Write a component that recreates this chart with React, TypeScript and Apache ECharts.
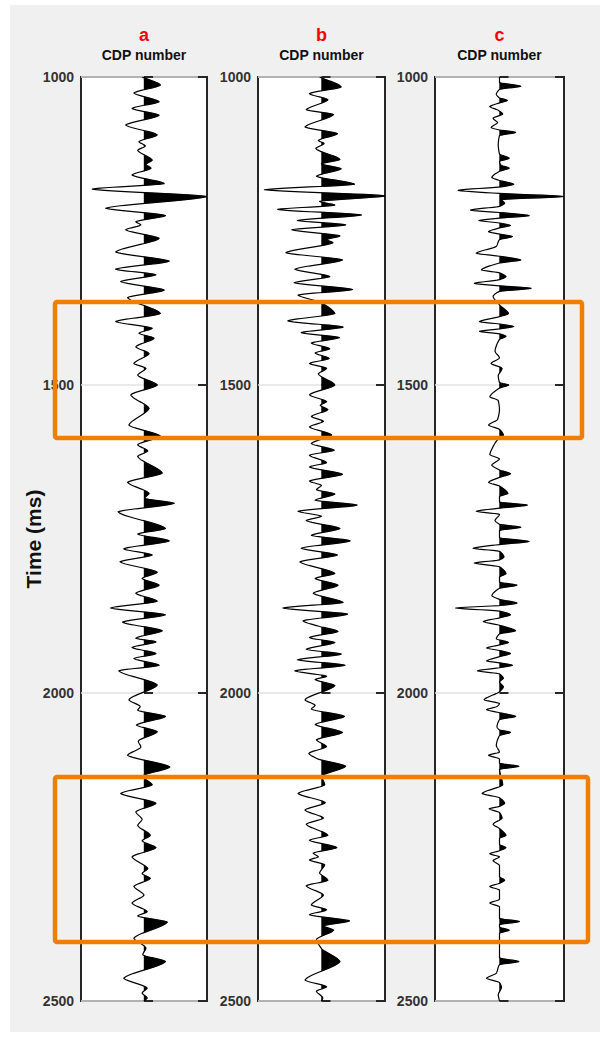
import React, { useEffect, useRef } from 'react';
import * as echarts from 'echarts';

// Time axis ticks (ms) and panel captions
const timeTicks = [1000, 1500, 2000, 2500];
const panelLetters = ['a', 'b', 'c'];
const panelTitle = 'CDP number';
const timeTitle = 'Time (ms)';

// Wiggle traces: [time (ms), normalized amplitude]
const traceA: number[][] = [
  [1000, -0.03], [1013, 0.26], [1026, -0.16], [1040, 0.24], [1051, -0.19], [1062, 0.24],
  [1078, -0.29], [1094, 0.21], [1105, -0.08], [1112, 0.02], [1119, -0.10], [1135, 0.13],
  [1142, 0.03], [1148, 0.11], [1159, -0.19], [1173, 0.32], [1182, -0.82], [1194, 1.0],
  [1213, -0.61], [1225, 0.34], [1235, -0.13], [1240, -0.05], [1248, -0.29], [1262, 0.24],
  [1284, -0.45], [1299, 0.40], [1312, -0.45], [1321, 0.19], [1332, -0.37], [1346, 0.32],
  [1358, -0.26], [1384, 0.26], [1397, -0.45], [1408, 0.13], [1416, -0.08], [1424, 0.16],
  [1438, -0.13], [1449, 0.08], [1465, -0.16], [1473, 0.03], [1484, -0.10], [1500, 0.21],
  [1516, -0.21], [1538, 0.08], [1565, -0.24], [1583, 0.26], [1597, -0.10], [1607, 0.06],
  [1616, -0.10], [1643, 0.29], [1658, -0.26], [1676, 0.08], [1684, 0.01], [1692, 0.48],
  [1706, -0.41], [1733, 0.34], [1742, -0.10], [1753, 0.40], [1766, -0.32], [1776, 0.13],
  [1787, -0.38], [1804, 0.21], [1814, -0.03], [1825, 0.24], [1838, -0.13], [1851, 0.21],
  [1862, -0.53], [1873, 0.34], [1885, -0.34], [1899, 0.29], [1911, -0.13], [1917, 0.19],
  [1926, -0.19], [1936, 0.19], [1944, -0.16], [1955, 0.24], [1964, -0.40], [1987, 0.21],
  [2011, -0.24], [2022, -0.06], [2028, -0.10], [2038, 0.34], [2052, -0.12], [2063, 0.21],
  [2078, -0.09], [2088, -0.05], [2101, -0.26], [2120, 0.41], [2135, -0.03], [2149, 0.13],
  [2163, -0.37], [2179, 0.19], [2193, -0.13], [2205, -0.03], [2215, -0.10], [2231, 0.10],
  [2240, -0.03], [2251, 0.19], [2266, -0.19], [2285, 0.06], [2293, -0.03], [2301, 0.10],
  [2314, -0.16], [2328, 0.0], [2341, -0.19], [2355, 0.05], [2362, -0.10], [2372, 0.37],
  [2398, -0.16], [2414, 0.03], [2425, -0.02], [2436, 0.34], [2463, -0.32], [2479, 0.05],
  [2487, -0.03], [2495, 0.05], [2500, 0.0],
];

const traceB: number[][] = [
  [1000, -0.03], [1016, 0.31], [1027, -0.19], [1037, 0.10], [1053, -0.24], [1061, 0.19],
  [1081, -0.26], [1092, 0.25], [1103, -0.05], [1108, 0.04], [1116, -0.09], [1134, 0.29],
  [1141, 0.0], [1149, 0.31], [1161, -0.08], [1174, 0.52], [1183, -0.90], [1193, 1.0],
  [1202, -0.03], [1208, 0.21], [1215, -0.69], [1224, 0.63], [1233, -0.38], [1240, 0.38],
  [1248, -0.47], [1258, 0.29], [1264, 0.08], [1269, 0.18], [1285, -0.56], [1297, 0.33],
  [1312, -0.42], [1324, 0.13], [1334, -0.43], [1345, 0.49], [1354, -0.37], [1366, -0.01],
  [1384, 0.21], [1396, -0.53], [1406, 0.34], [1415, -0.32], [1423, 0.28], [1432, -0.16],
  [1441, 0.13], [1448, -0.10], [1457, 0.12], [1465, -0.19], [1473, 0.08], [1482, -0.05],
  [1500, 0.21], [1516, -0.19], [1527, 0.08], [1533, -0.02], [1540, 0.10], [1551, -0.16],
  [1559, 0.03], [1568, -0.19], [1581, 0.16], [1595, -0.16], [1606, 0.20], [1614, -0.19],
  [1626, 0.08], [1633, -0.19], [1645, 0.33], [1656, -0.19], [1663, 0.0], [1670, -0.08],
  [1677, 0.21], [1687, -0.10], [1695, 0.56], [1705, -0.37], [1713, 0.0], [1720, -0.24],
  [1733, 0.29], [1744, -0.16], [1753, 0.45], [1765, -0.32], [1776, 0.25], [1787, -0.34],
  [1806, 0.21], [1814, -0.10], [1825, 0.26], [1838, -0.13], [1853, 0.34], [1862, -0.61],
  [1872, 0.41], [1883, -0.29], [1892, -0.03], [1900, 0.26], [1910, -0.19], [1918, 0.21],
  [1929, -0.24], [1937, 0.31], [1946, -0.38], [1955, 0.37], [1964, -0.42], [1973, 0.08],
  [1978, -0.10], [1988, 0.21], [2011, -0.26], [2020, -0.10], [2026, -0.16], [2038, 0.36],
  [2051, -0.10], [2064, 0.33], [2076, -0.08], [2087, 0.08], [2098, -0.20], [2107, -0.06],
  [2119, 0.38], [2135, 0.0], [2149, 0.05], [2163, -0.37], [2178, 0.06], [2190, -0.26],
  [2203, 0.03], [2213, -0.24], [2231, 0.10], [2239, -0.19], [2251, 0.24], [2260, -0.13],
  [2266, -0.05], [2271, -0.19], [2279, 0.05], [2292, -0.03], [2304, 0.10], [2313, -0.24],
  [2328, 0.03], [2344, -0.16], [2352, 0.08], [2360, -0.19], [2370, 0.44], [2378, 0.03],
  [2385, 0.19], [2400, -0.08], [2415, 0.0], [2436, 0.29], [2466, -0.26], [2477, 0.08],
  [2484, -0.08], [2495, 0.02], [2500, 0.0],
];

const traceC: number[][] = [
  [1000, 0.0], [1009, 0.0], [1015, 0.33], [1020, 0.0], [1028, -0.05], [1034, 0.0],
  [1038, 0.12], [1042, 0.0], [1048, -0.15], [1054, -0.02], [1060, 0.05], [1067, -0.10],
  [1074, -0.03], [1082, -0.13], [1086, 0.0], [1090, 0.25], [1095, 0.0], [1110, -0.02],
  [1125, 0.0], [1132, 0.15], [1137, 0.0], [1143, 0.02], [1148, 0.15], [1153, 0.0],
  [1163, -0.12], [1168, 0.0], [1174, 0.22], [1178, 0.05], [1184, -0.64], [1189, 0.0],
  [1194, 1.0], [1199, 0.03], [1205, 0.08], [1210, 0.0], [1216, -0.45], [1220, 0.0],
  [1225, 0.46], [1229, 0.0], [1233, -0.32], [1237, 0.0], [1241, 0.17], [1245, 0.0],
  [1251, -0.17], [1255, 0.0], [1259, 0.20], [1264, 0.0], [1275, -0.05], [1286, -0.36],
  [1291, 0.0], [1297, 0.33], [1302, 0.0], [1313, -0.28], [1318, 0.0], [1324, 0.10],
  [1329, 0.0], [1335, -0.39], [1339, 0.0], [1343, 0.49], [1348, 0.0], [1356, -0.10],
  [1370, 0.0], [1384, 0.14], [1389, 0.0], [1397, -0.31], [1401, 0.0], [1405, 0.22],
  [1409, 0.0], [1413, -0.31], [1417, 0.0], [1421, 0.10], [1426, 0.0], [1445, -0.07],
  [1456, 0.0], [1465, -0.13], [1473, 0.04], [1485, -0.02], [1496, 0.0], [1500, 0.14],
  [1505, 0.0], [1519, -0.15], [1525, -0.02], [1540, 0.0], [1556, -0.03], [1565, -0.17],
  [1572, 0.0], [1581, 0.06], [1590, -0.04], [1600, -0.10], [1613, -0.15], [1620, 0.0],
  [1630, -0.12], [1638, 0.0], [1644, 0.17], [1650, 0.0], [1658, -0.17], [1664, 0.0],
  [1676, 0.13], [1681, 0.0], [1690, 0.0], [1695, 0.43], [1700, 0.0], [1705, -0.36],
  [1710, 0.0], [1720, -0.07], [1726, 0.0], [1731, 0.33], [1736, 0.0], [1748, 0.0],
  [1754, 0.46], [1759, 0.0], [1765, -0.41], [1770, 0.0], [1779, 0.07], [1784, 0.0],
  [1789, -0.39], [1795, 0.0], [1806, 0.10], [1812, 0.0], [1820, 0.0], [1825, 0.27],
  [1830, 0.0], [1842, -0.12], [1848, 0.0], [1854, 0.27], [1858, 0.0], [1862, -0.68],
  [1867, 0.0], [1873, 0.17], [1878, 0.0], [1884, -0.25], [1890, 0.0], [1899, 0.25],
  [1904, 0.0], [1912, -0.05], [1918, 0.14], [1922, 0.0], [1927, -0.20], [1931, 0.0],
  [1936, 0.17], [1941, 0.0], [1948, -0.20], [1951, 0.0], [1955, 0.20], [1959, 0.0],
  [1964, -0.34], [1969, 0.0], [1976, 0.06], [1982, 0.0], [1990, 0.06], [1998, 0.0],
  [2011, -0.24], [2017, 0.0], [2022, -0.04], [2027, -0.20], [2032, 0.0], [2038, 0.25],
  [2043, 0.0], [2055, -0.04], [2060, 0.0], [2064, 0.17], [2069, 0.0], [2085, -0.05],
  [2096, 0.0], [2101, -0.17], [2107, 0.0], [2114, 0.0], [2119, 0.30], [2124, 0.0],
  [2149, 0.05], [2163, -0.27], [2170, 0.0], [2179, 0.08], [2184, 0.0], [2188, -0.16],
  [2194, 0.0], [2203, 0.04], [2213, -0.10], [2220, 0.0], [2231, 0.10], [2236, 0.0],
  [2246, 0.0], [2251, 0.10], [2256, 0.0], [2261, -0.15], [2266, 0.0], [2272, -0.10],
  [2280, 0.0], [2298, 0.0], [2304, 0.08], [2309, 0.0], [2314, -0.15], [2320, 0.0],
  [2335, 0.0], [2341, -0.15], [2347, 0.0], [2366, 0.0], [2371, 0.31], [2376, 0.0],
  [2380, 0.0], [2385, 0.15], [2390, 0.0], [2430, 0.0], [2436, 0.30], [2441, 0.0],
  [2455, -0.05], [2463, -0.20], [2470, 0.0], [2478, 0.03], [2490, -0.02], [2500, 0.0],
];

const traces = [traceA, traceB, traceC];

// Panel layout (px)
const PANEL_LEFT = [81, 258, 435];
const PANEL_WIDTH = [126, 127, 129];
const PANEL_TOP = 77;
const PANEL_HEIGHT = 924;
const FONT = 'Liberation Sans, Arial, Helvetica, sans-serif';
const HIGHLIGHT = '#ef7f00';
// 1 = fully rounded lobes, 0 = straight segments between picks
const ROUNDING = 0.65;

// Trace outline through pixel points (x as a function of y): a monotone
// cubic blended with the straight segments so lobes keep slightly pointed tips.
function traceOutline(pts: number[][], step: number, rounding: number): number[][] {
  const n = pts.length;
  const u = pts.map((p) => p[1]);
  const v = pts.map((p) => p[0]);
  const d: number[] = [];
  for (let i = 0; i < n - 1; i++) d.push((v[i + 1] - v[i]) / (u[i + 1] - u[i]));
  const m: number[] = new Array(n).fill(0);
  m[0] = d[0];
  m[n - 1] = d[n - 2];
  for (let i = 1; i < n - 1; i++) {
    if (d[i - 1] * d[i] <= 0) m[i] = 0;
    else {
      const h0 = u[i] - u[i - 1];
      const h1 = u[i + 1] - u[i];
      const w1 = 2 * h1 + h0;
      const w2 = h1 + 2 * h0;
      m[i] = (w1 + w2) / (w1 / d[i - 1] + w2 / d[i]);
    }
  }
  const out: number[][] = [];
  for (let i = 0; i < n - 1; i++) {
    const h = u[i + 1] - u[i];
    const k = Math.max(2, Math.ceil(h / step));
    for (let s = 0; s < k; s++) {
      const t = s / k;
      const t2 = t * t;
      const t3 = t2 * t;
      const cubic =
        (2 * t3 - 3 * t2 + 1) * v[i] +
        (t3 - 2 * t2 + t) * h * m[i] +
        (-2 * t3 + 3 * t2) * v[i + 1] +
        (t3 - t2) * h * m[i + 1];
      const straight = v[i] + t * (v[i + 1] - v[i]);
      out.push([rounding * cubic + (1 - rounding) * straight, u[i] + t * h]);
    }
  }
  out.push([v[n - 1], u[n - 1]]);
  return out;
}

// Positive lobes of a trace outline, closed against the zero line
function positiveLobes(curve: number[][], base: number): number[][][] {
  const polys: number[][][] = [];
  let cur: number[][] | null = null;
  for (let i = 0; i < curve.length; i++) {
    const [x, y] = curve[i];
    if (x > base) {
      if (!cur) {
        if (i > 0) {
          const [px, py] = curve[i - 1];
          const f = (base - px) / (x - px);
          cur = [[base, py + f * (y - py)]];
        } else {
          cur = [[base, y]];
        }
      }
      cur.push([x, y]);
    } else if (cur) {
      const [px, py] = curve[i - 1];
      const f = (base - px) / (x - px);
      cur.push([base, py + f * (y - py)]);
      polys.push(cur);
      cur = null;
    }
  }
  if (cur) {
    cur.push([base, cur[cur.length - 1][1]]);
    polys.push(cur);
  }
  return polys;
}

function buildOption() {
  const tMin = timeTicks[0];
  const tMax = timeTicks[timeTicks.length - 1];
  const tStep = timeTicks[1] - timeTicks[0];

  const grid = traces.map((_, i) => ({
    left: PANEL_LEFT[i],
    top: PANEL_TOP,
    width: PANEL_WIDTH[i],
    height: PANEL_HEIGHT,
    show: true,
    backgroundColor: '#ffffff',
    borderColor: '#262626',
    borderWidth: 2,
  }));

  const xAxis = traces.map((_, i) => ({
    gridIndex: i,
    type: 'value',
    min: -1,
    max: 1,
    show: false,
  }));

  const tick = { show: true, inside: true, length: 9, lineStyle: { color: '#262626', width: 2 } };
  const yAxis: any[] = [];
  traces.forEach((_, i) => {
    yAxis.push({
      gridIndex: i,
      type: 'value',
      position: 'left',
      inverse: true,
      min: tMin,
      max: tMax,
      interval: tStep,
      axisLine: { show: false },
      axisTick: tick,
      axisLabel: {
        show: true,
        margin: 7,
        color: '#333333',
        fontSize: 14,
        fontWeight: 'bold',
        fontFamily: FONT,
        formatter: (v: number) => String(v),
      },
      splitLine: { show: true, lineStyle: { color: '#e2e2e2', width: 1.5 } },
    });
    yAxis.push({
      gridIndex: i,
      type: 'value',
      position: 'right',
      inverse: true,
      min: tMin,
      max: tMax,
      interval: tStep,
      axisLine: { show: false },
      axisTick: tick,
      axisLabel: { show: false },
      splitLine: { show: false },
    });
  });

  const series = traces.map((trace, i) => ({
    type: 'custom',
    coordinateSystem: 'cartesian2d',
    xAxisIndex: i,
    yAxisIndex: i * 2,
    clip: true,
    silent: true,
    data: trace.map(([t, a]) => [a, t]),
    renderItem: (params: any, api: any) => {
      if (params.dataIndex !== 0) return null;
      const pts = trace.map(([t, a]) => api.coord([a, t]));
      const base = api.coord([0, tMin])[0];
      const outline = traceOutline(pts, 0.5, ROUNDING);
      const lobes = positiveLobes(outline, base);
      const children: any[] = lobes.map((p) => ({
        type: 'polygon',
        shape: { points: p },
        style: { fill: '#000000', stroke: '#000000', lineWidth: 0.4 },
      }));
      children.push({
        type: 'polyline',
        shape: { points: outline },
        style: { stroke: '#000000', lineWidth: 1.2, fill: 'none', lineJoin: 'round' },
      });
      return { type: 'group', children };
    },
  }));

  const graphic: any[] = [];
  traces.forEach((_, i) => {
    const cx = PANEL_LEFT[i] + PANEL_WIDTH[i] / 2;
    graphic.push({
      type: 'text',
      x: cx,
      y: 35,
      style: {
        text: panelLetters[i],
        fill: '#ff0000',
        fontSize: 18,
        fontWeight: 'bold',
        fontFamily: FONT,
        align: 'center',
        verticalAlign: 'middle',
      },
    });
    graphic.push({
      type: 'text',
      x: cx,
      y: 55,
      style: {
        text: panelTitle,
        fill: '#111111',
        fontSize: 14,
        fontWeight: 'bold',
        fontFamily: FONT,
        align: 'center',
        verticalAlign: 'middle',
      },
    });
  });
  graphic.push({
    type: 'text',
    x: 33,
    y: PANEL_TOP + PANEL_HEIGHT / 2,
    rotation: Math.PI / 2,
    style: {
      text: timeTitle,
      fill: '#111111',
      fontSize: 21,
      fontWeight: 'bold',
      fontFamily: FONT,
      align: 'center',
      verticalAlign: 'middle',
    },
  });
  graphic.push({
    type: 'rect',
    z: 100,
    shape: { x: 55, y: 302, width: 527, height: 136, r: 2 },
    style: { fill: 'none', stroke: HIGHLIGHT, lineWidth: 4.5 },
  });
  graphic.push({
    type: 'rect',
    z: 100,
    shape: { x: 55, y: 777, width: 533, height: 165, r: 2 },
    style: { fill: 'none', stroke: HIGHLIGHT, lineWidth: 4.5 },
  });

  return {
    animation: false,
    backgroundColor: 'transparent',
    grid,
    xAxis,
    yAxis,
    series,
    graphic,
  };
}

export default function App() {
  const ref = useRef<HTMLDivElement>(null);

  useEffect(() => {
    if (!ref.current) return;
    const chart = echarts.init(ref.current, null, { renderer: 'svg' });
    chart.setOption(buildOption() as any);
    return () => chart.dispose();
  }, []);

  return (
    <div style={{ position: 'absolute', left: 0, top: 0, width: 605, height: 1038, background: '#ffffff' }}>
      <div
        style={{ position: 'absolute', left: 10, top: 5, width: 590, height: 1027, background: '#f0f0f0' }}
      />
      <div ref={ref} style={{ position: 'absolute', left: 0, top: 0, width: 605, height: 1038 }} />
    </div>
  );
}
